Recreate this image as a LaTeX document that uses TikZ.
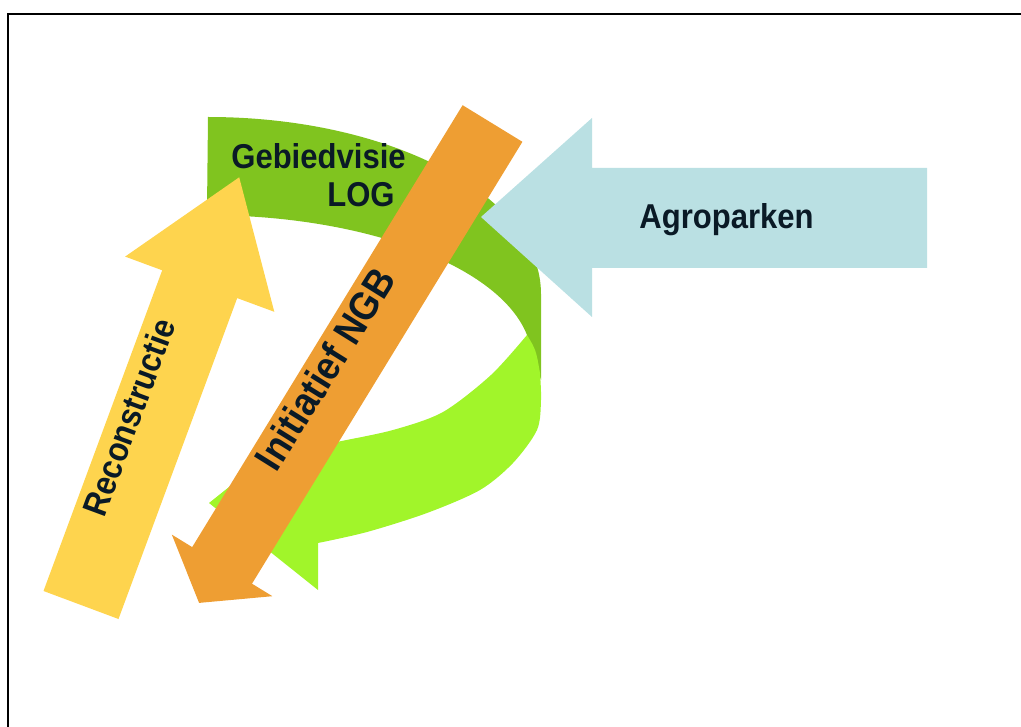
\documentclass[tikz,border=0pt]{standalone}
\usepackage{fontspec}
\newfontfamily\labelfont{Liberation Sans}[FakeStretch=0.9]
\definecolor{backgreen}{RGB}{128,196,31}
\definecolor{frontgreen}{RGB}{161,245,42}
\definecolor{reconyellow}{RGB}{254,212,78}
\definecolor{ngborange}{RGB}{238,158,51}
\definecolor{agroblue}{RGB}{186,224,227}
\definecolor{labelink}{RGB}{10,26,38}
\tikzset{
	arrowtext/.style={font=\labelfont\bfseries\fontsize{34.5}{38}\selectfont, text=labelink, inner sep=0pt}, % text on the arrows
	bigtext/.style={arrowtext, font=\labelfont\bfseries\fontsize{40}{44}\selectfont}, % larger text for the orange arrow
}

\begin{document}
\begin{tikzpicture}[x=1pt, y=-1pt]
	\useasboundingbox (0,0) rectangle (1021,727);
	\clip (0,0) rectangle (1021,727);
	\draw[line width=2pt] (8,14) rectangle (1040,745);
	% back side of the green ribbon
	\fill[backgreen] (208,117) arc[start angle=-90, end angle=0, x radius=333, y radius=177]
		-- (541,380) -- (527,335)
		arc[start angle=-10, end angle=-90, x radius=325, y radius=145] -- cycle;
	% front side of the green ribbon with its head
	\fill[frontgreen] (527,335) .. controls (536,350) .. (540,373)
		-- plot[smooth] coordinates {(540,373) (541,400) (537,430) (513,463) (480,490) (427,513) (367,532) (318,543)}
		-- (318,590) -- (209,503) -- (318,416) -- (318,447)
		-- plot[smooth] coordinates {(318,447) (337,442) (393,430) (443,412) (491,375) (527,335)} -- cycle;
	% yellow arrow
	\fill[reconyellow] (43.5,591) -- (162.2,270.3) -- (125.1,256.6) -- (239.2,177.3)
		-- (274.3,311.8) -- (237.2,298.1) -- (118.5,619) -- cycle;
	% orange arrow
	\fill[ngborange] (462.6,105.2) -- (522.4,141.8) -- (252,583.7) -- (272.4,596.2)
		-- (199.1,602.9) -- (171.8,534.6) -- (192.2,547.1) -- cycle;
	% blue arrow
	\fill[agroblue] (927,168) -- (592,168) -- (592,118) -- (481,217)
		-- (592,317) -- (592,268) -- (927,268) -- cycle;

	\node[arrowtext, anchor=base] (gebied) at (318.5,169) {Gebiedvisie};
	\node[arrowtext, anchor=base] (log) at (361,207) {LOG};
	\node[arrowtext, anchor=base] (agro) at (726.5,229) {Agroparken};
	\node[arrowtext, rotate=69.7] (recon) at (129,417) {Reconstructie};
	\node[bigtext, rotate=58] (ngb) at (325,369) {Initiatief NGB};
\end{tikzpicture}
\end{document}
